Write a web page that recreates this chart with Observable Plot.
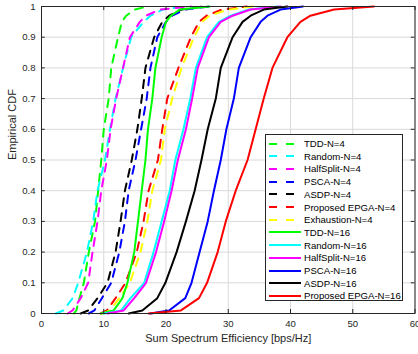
<!DOCTYPE html>
<html><head><meta charset="utf-8">
<script src="https://cdn.jsdelivr.net/npm/d3@7"></script>
<script src="https://cdn.jsdelivr.net/npm/@observablehq/plot@0.6"></script>
<style>
body{margin:0;background:#fff;}
#wrap{position:relative;width:418px;height:354px;font-family:"Liberation Sans",Arial,sans-serif;overflow:hidden;}
#legend{position:absolute;left:265px;top:134px;width:138px;height:167px;background:#fff;border:1px solid #262626;box-sizing:border-box;}
.row{position:absolute;left:0;height:13px;display:flex;align-items:center;font-size:9.6px;color:#000;white-space:nowrap;}
.row svg{margin-left:3px;margin-right:3px;}
</style></head>
<body><div id="wrap"></div>
<script>
// CDF levels (y) shared by all series
const cdfLevels = [0, 0.01, 0.05, 0.1, 0.2, 0.3, 0.4, 0.5, 0.6, 0.7, 0.8, 0.9, 0.95, 0.97, 0.99, 1];

// Sum spectrum efficiency (x) at each CDF level
const tdd4       = [5.2, 5.6, 6.1, 6.8, 7.6, 8.6, 9.1, 9.6, 10.0, 10.8, 11.2, 12.3, 12.9, 13.6, 15.0, 17.0];
const random4    = [2.3, 3.5, 5.0, 5.9, 7.3, 8.3, 9.0, 10.2, 11.0, 11.9, 13.1, 14.4, 16.4, 17.5, 19.5, 23.0];
const halfSplit4 = [4.2, 5.0, 6.3, 7.5, 8.2, 9.0, 9.6, 10.5, 11.1, 12.0, 13.1, 14.2, 15.8, 16.8, 19.0, 24.0];
const psca4      = [7.6, 8.5, 9.7, 11.2, 12.5, 13.4, 14.0, 15.1, 16.0, 16.9, 17.5, 18.6, 20.0, 21.0, 23.0, 27.0];
const asdp4      = [6.3, 7.5, 9.0, 10.6, 11.9, 12.7, 13.4, 14.5, 15.4, 16.1, 16.7, 18.1, 19.4, 20.5, 22.5, 26.0];
const epga4      = [9.5, 10.5, 11.9, 13.5, 15.3, 16.4, 17.2, 18.7, 19.4, 20.2, 22.0, 24.0, 25.3, 26.5, 29.0, 33.0];
const exh4       = [9.8, 11.0, 12.5, 14.2, 15.9, 17.0, 17.8, 19.2, 19.8, 21.0, 22.5, 24.5, 25.8, 27.0, 30.0, 34.0];
const tdd16      = [9.5, 11.6, 13.0, 13.8, 14.9, 15.5, 16.1, 16.7, 17.1, 17.8, 18.3, 19.3, 20.0, 20.8, 22.2, 27.0];
const random16   = [10.0, 12.8, 14.3, 16.5, 18.0, 19.3, 20.6, 21.5, 22.8, 23.9, 24.8, 26.6, 28.5, 30.4, 33.3, 38.0];
const halfSplit16= [10.6, 13.2, 14.9, 16.8, 18.4, 19.7, 20.9, 21.9, 23.2, 24.2, 25.1, 26.9, 28.8, 30.7, 33.6, 38.4];
const psca16     = [17.5, 20.5, 23.1, 24.1, 25.4, 26.7, 27.7, 28.8, 29.7, 30.9, 31.7, 33.6, 35.2, 36.3, 38.4, 42.0];
const asdp16     = [14.0, 16.2, 18.6, 19.9, 21.7, 23.2, 24.6, 25.7, 26.7, 28.0, 28.8, 30.7, 32.3, 33.6, 35.7, 39.5];
const epga16     = [17.2, 22.4, 25.3, 26.6, 28.3, 29.6, 31.2, 33.1, 34.4, 35.7, 37.1, 39.5, 41.6, 43.2, 47.0, 53.4];

const seriesNames = ["TDD-N=4","Random-N=4","HalfSplit-N=4","PSCA-N=4","ASDP-N=4","Proposed EPGA-N=4","Exhaustion-N=4",
  "TDD-N=16","Random-N=16","HalfSplit-N=16","PSCA-N=16","ASDP-N=16","Proposed EPGA-N=16"];
const seriesValues = [tdd4, random4, halfSplit4, psca4, asdp4, epga4, exh4, tdd16, random16, halfSplit16, psca16, asdp16, epga16];

const xTicks = [0, 10, 20, 30, 40, 50, 60];
const yTicks = [0, 0.1, 0.2, 0.3, 0.4, 0.5, 0.6, 0.7, 0.8, 0.9, 1];
const xLabel = "Sum Spectrum Efficiency [bps/Hz]";
const yLabel = "Empirical CDF";

// styles
const seriesColors = ["#00ff00","#00ffff","#ff00ff","#0000ff","#000000","#ff0000","#ffff00",
  "#00ff00","#00ffff","#ff00ff","#0000ff","#000000","#ff0000"];
const seriesDashed = [true,true,true,true,true,true,true,false,false,false,false,false,false];
const dash = "8,7";
const axisColor = "#262626";

const lineMarks = seriesNames.map((name, i) => {
  const rows = cdfLevels.map((y, j) => ({x: seriesValues[i][j], y}));
  return Plot.line(rows, {x: "x", y: "y", stroke: seriesColors[i], strokeWidth: 2,
    strokeDasharray: seriesDashed[i] ? dash : null, curve: "linear"});
});

const chart = Plot.plot({
  width: 418, height: 354,
  marginLeft: 41, marginRight: 3.5, marginTop: 6, marginBottom: 41,
  style: {fontFamily: "'Liberation Sans', Arial, sans-serif", fontSize: "9.6px", color: axisColor, background: "#fff"},
  x: {domain: [0, 60]},
  y: {domain: [0, 1]},
  marks: [
    Plot.ruleX(xTicks, {stroke: "#d9d9d9", strokeWidth: 1}),
    Plot.ruleY(yTicks, {stroke: "#d9d9d9", strokeWidth: 1}),
    ...lineMarks,
    Plot.ruleX(xTicks, {x: d => d, y1: 0, y2: 0.013, stroke: axisColor}),
    Plot.ruleX(xTicks, {x: d => d, y1: 0.987, y2: 1, stroke: axisColor}),
    Plot.ruleY(yTicks, {y: d => d, x1: 0, x2: 0.6, stroke: axisColor}),
    Plot.ruleY(yTicks, {y: d => d, x1: 59.4, x2: 60, stroke: axisColor}),
    Plot.frame({stroke: axisColor, strokeWidth: 1}),
    Plot.axisX(xTicks, {tickSize: 0, tickPadding: 7, label: null, fill: axisColor}),
    Plot.axisY(yTicks, {tickSize: 0, tickPadding: 6, label: null, fill: axisColor, tickFormat: d => String(+d.toFixed(1))}),
    Plot.text([xLabel], {frameAnchor: "bottom", dy: 28, fontSize: 11, fill: axisColor}),
    Plot.text([yLabel], {frameAnchor: "left", dx: -29, rotate: -90, fontSize: 11, fill: axisColor})
  ]
});

const wrap = document.getElementById("wrap");
wrap.appendChild(chart);

// legend
const legend = document.createElement("div");
legend.id = "legend";
seriesNames.forEach((name, i) => {
  const row = document.createElement("div");
  row.className = "row";
  row.style.top = (2 + i * 12.7) + "px";
  const ns = "http://www.w3.org/2000/svg";
  const s = document.createElementNS(ns, "svg");
  s.setAttribute("width", 32); s.setAttribute("height", 6);
  const l = document.createElementNS(ns, "line");
  l.setAttribute("x1", 0); l.setAttribute("x2", 32); l.setAttribute("y1", 3); l.setAttribute("y2", 3);
  l.setAttribute("stroke", seriesColors[i]); l.setAttribute("stroke-width", 2);
  if (seriesDashed[i]) l.setAttribute("stroke-dasharray", "8,9");
  s.appendChild(l);
  row.appendChild(s);
  const t = document.createElement("span");
  t.textContent = name;
  row.appendChild(t);
  legend.appendChild(row);
});
wrap.appendChild(legend);
</script>
</body></html>
